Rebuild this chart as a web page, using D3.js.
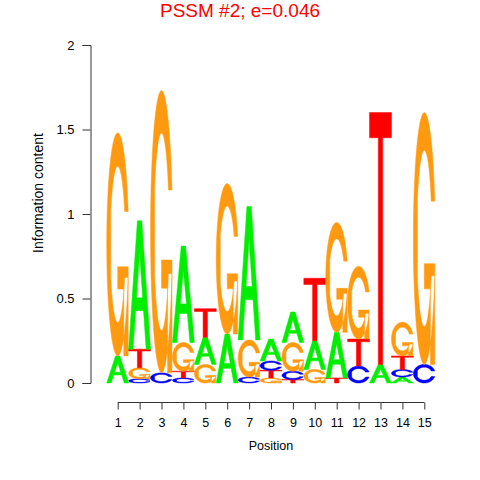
<!DOCTYPE html>
<html>
<head>
<meta charset="utf-8">
<script src="https://cdn.jsdelivr.net/npm/d3@7"></script>
<style>
body { margin: 0; background: #fff; }
text { font-family: "Liberation Sans", Arial, sans-serif; }
</style>
</head>
<body>
<svg id="logo" width="480" height="480"></svg>
<script>
// information content per base at each position
var positions = d3.range(1, 16);
var bases = ["A", "C", "G", "T"];
var infoA = [0.16, 0.76, 0, 0.57, 0.16, 0.29, 0.79, 0.13, 0.18, 0.17, 0.27, 0, 0.11, 0.035, 0];
var infoC = [0, 0.025, 0.06, 0.03, 0, 0, 0.035, 0.055, 0.05, 0, 0, 0.10, 0, 0.045, 0.11];
var infoG = [1.32, 0.065, 1.67, 0.17, 0.11, 0.89, 0.22, 0.03, 0.17, 0.08, 0.65, 0.43, 0, 0.2, 1.49];
var infoT = [0, 0.11, 0, 0.04, 0.17, 0, 0, 0.045, 0.02, 0.37, 0.03, 0.16, 1.49, 0.08, 0];
var yTicks = [0, 0.5, 1, 1.5, 2];
var title = "PSSM #2; e=0.046";

var baseColor = {A: "#00ee00", C: "#0000ff", G: "#ff9a10", T: "#ff0000"};
var info = {A: infoA, C: infoC, G: infoG, T: infoT};

var svg = d3.select("#logo");

var x = d3.scaleLinear().domain([0, 16]).range([95.8, 446.2]);
var y = d3.scaleLinear().domain([0, 2]).range([383, 45]);

// letter outlines in a unit box, y up
function ring() {
	var a1 = d3.range(100).map(function(i) { return 0.3 + Math.PI / 2 + i * (Math.PI / 2 - 0.3) / 99; });
	var a2 = d3.range(100).map(function(i) { return Math.PI + i * (Math.PI / 2) / 99; });
	var outer = a1.concat(a2).map(function(a) { return [0.5 + 0.5 * Math.sin(a), 0.5 + 0.5 * Math.cos(a)]; });
	var hTop = outer[0][1];
	var inner = a1.concat(a2).map(function(a) { return [0.5 + 0.35 * Math.sin(a), 0.5 + 0.35 * Math.cos(a)]; })
		.filter(function(p) { return p[1] <= hTop; });
	inner[0] = [inner[0][0], hTop];
	var o = outer.concat(outer.slice().reverse().map(function(p) { return [p[0], 1 - p[1]]; }));
	var i = inner.concat(inner.slice().reverse().map(function(p) { return [p[0], 1 - p[1]]; }));
	return {pts: o.concat(i.reverse()), r1: outer[0][0]};
}
var C = ring();
var glyphs = {
	A: [[[0,0],[0.4,1],[0.6,1],[1,0],[0.8,0],[0.68,0.3],[0.32,0.3],[0.2,0]],
		[[0.36,0.4],[0.5,0.75],[0.64,0.4]]],
	T: [[[0,1],[1,1],[1,0.9],[0.6,0.9],[0.6,0],[0.4,0],[0.4,0.9],[0,0.9]]],
	C: [C.pts],
	G: [C.pts, [[C.r1,0.4],[0.5,0.4],[0.5,0.3],[C.r1-0.2,0.3],[C.r1-0.2,0],[C.r1,0]]]
};

function glyphPath(b, x0, w, yb, h) {
	return glyphs[b].map(function(poly) {
		return "M" + poly.map(function(p) { return [x0 + p[0] * w, yb - p[1] * h].join(","); }).join("L") + "Z";
	}).join("");
}

// stack letters, smallest at the bottom
var stacks = positions.map(function(p, j) {
	var col = bases.map(function(b) { return {base: b, v: info[b][j]}; })
		.filter(function(d) { return d.v > 0; })
		.sort(function(a, b) { return a.v - b.v; });
	var cum = 0;
	col.forEach(function(d) { d.y0 = cum; cum += d.v; d.y1 = cum; d.pos = p; });
	return col;
});

svg.append("g").selectAll("path")
	.data(stacks.flat())
	.enter().append("path")
	.attr("d", function(d) {
		var w = x(d.pos + 0.5) - x(d.pos - 0.5);
		return glyphPath(d.base, x(d.pos - 0.5), w, y(d.y0), y(d.y0) - y(d.y1));
	})
	.attr("fill", function(d) { return baseColor[d.base]; })
	.attr("stroke", function(d) { return baseColor[d.base]; })
	.attr("stroke-width", 0.5)
	.attr("fill-rule", "evenodd");

// y axis
var yAxis = svg.append("g")
	.attr("transform", "translate(90.5,0)")
	.call(d3.axisLeft(y).tickValues(yTicks).tickFormat(d3.format("")).tickSizeOuter(0).tickSize(8).tickPadding(8));
yAxis.selectAll("text").style("font-size", "13px").attr("fill", "#000");
yAxis.selectAll("line, path").attr("stroke", "#333");

// x axis
var xAxis = svg.append("g")
	.attr("transform", "translate(0,402.5)")
	.call(d3.axisBottom(x).tickValues(positions).tickSize(7).tickPadding(9));
xAxis.select(".domain").remove();
xAxis.append("line")
	.attr("x1", x(1)).attr("x2", x(15))
	.attr("stroke", "#333");
xAxis.selectAll("text").style("font-size", "12.5px").attr("fill", "#000");
xAxis.selectAll("line").attr("stroke", "#333");

svg.append("text")
	.attr("x", (x(1) + x(15)) / 2).attr("y", 450)
	.attr("text-anchor", "middle")
	.style("font-size", "12.5px")
	.text("Position");

svg.append("text")
	.attr("transform", "translate(43,193) rotate(-90)")
	.attr("text-anchor", "middle")
	.style("font-size", "14px")
	.text("Information content");

svg.append("text")
	.attr("x", 240).attr("y", 17)
	.attr("text-anchor", "middle")
	.attr("fill", "#ff0000")
	.style("font-size", "19px")
	.text(title);
</script>
</body>
</html>
